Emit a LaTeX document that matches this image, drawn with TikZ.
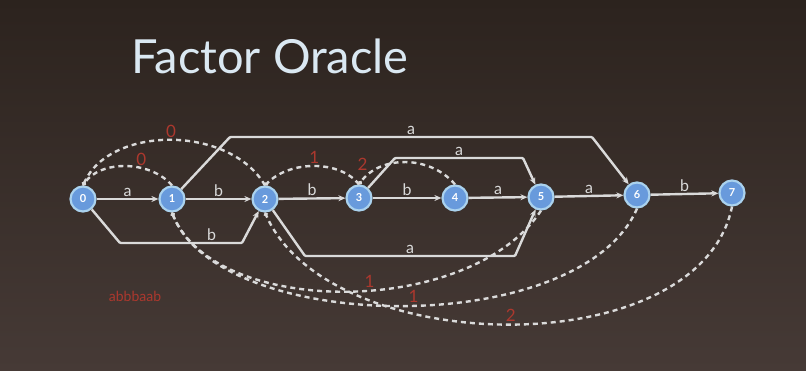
\documentclass[tikz,border=0pt]{standalone}
\usepackage{fontspec}
\setmainfont{Lato}
\usetikzlibrary{arrows.meta}
\definecolor{slidetop}{RGB}{44,35,30}
\definecolor{slidebot}{RGB}{70,58,54}
\definecolor{wire}{RGB}{218,218,218}
\definecolor{statefill}{RGB}{104,154,220}
\definecolor{ring}{RGB}{170,210,238}
\definecolor{lrsred}{RGB}{172,56,46}
\definecolor{titlecol}{RGB}{218,232,242}
\begin{document}
\begin{tikzpicture}[x=1pt, y=-1pt,
   every node/.style={font=\fontsize{16}{16}\selectfont},
   state/.style={circle, draw=ring, line width=2.2pt, fill=statefill, inner sep=0pt,
                 minimum size=25pt, text=white, font=\fontsize{11}{11}\selectfont\bfseries},
   trans/.style={draw=wire, line width=2.4pt, rounded corners=1pt, -{Stealth[length=7pt,width=6pt]}},
   sfx/.style={draw=wire, line width=2.4pt, dash pattern=on 5pt off 4pt, -{Circle[length=4pt]}},
   lbl/.style={text=wire, inner sep=1.5pt},
   lrs/.style={text=lrsred, inner sep=1.5pt, font=\fontsize{17}{17}\selectfont}]

\shade[top color=slidetop, bottom color=slidebot] (0,0) rectangle (806,371);
\useasboundingbox (0,0) rectangle (806,371);

\node[text=titlecol, font=\fontsize{47}{47}\selectfont] (title) at (270,56) {Factor Oracle};

% states
\node[state] (q0) at (83,199) {0};
\node[state] (q1) at (172,199) {1};
\node[state] (q2) at (265,199) {2};
\node[state] (q3) at (359,198) {3};
\node[state] (q4) at (455,198) {4};
\node[state] (q5) at (541,197) {5};
\node[state] (q6) at (637,195) {6};
\node[state] (q7) at (732,193) {7};

% transitions
\draw[trans] (q0) -- node[lbl, above] {a} (q1);
\draw[trans] (q1) -- node[lbl, above] {b} (q2);
\draw[trans] (q2) -- node[lbl, above] {b} (q3);
\draw[trans] (q3) -- node[lbl, above] {b} (q4);
\draw[trans] (q4) -- node[lbl, above] {a} (q5);
\draw[trans] (q5) -- node[lbl, above] {a} (q6);
\draw[trans] (q6) -- node[lbl, above] {b} (q7);

\draw[trans] (q0) -- (120,243) -- node[lbl, above, pos=0.75] {b} (242,243) -- (q2);
\draw[trans] (q1) -- (230,137) -- node[lbl, above] {a} (592,137) -- (q6);
\draw[trans] (q2) -- (305,256) -- node[lbl, above] {a} (515,256) -- (q5);
\draw[trans] (q3) -- (395,158) -- node[lbl, above] {a} (523,158) -- (q5);

% suffix links
\draw[sfx] (q1.north) .. controls (150,160) and (100,160) .. node[lrs, above, pos=0.35] {0} (q0.north);
\draw[sfx] (q2.north) .. controls (230,125) and (110,125) .. node[lrs, above] {0} (q0.north);
\draw[sfx] (q3.north) .. controls (340,160) and (290,160) .. node[lrs, above] {1} (q2.north);
\draw[sfx] (q4.north) .. controls (430,155) and (380,155) .. node[lrs, above left, pos=0.85] {2} (q3.north);
\draw[sfx] (q5.south) .. controls (470,318) and (215,318) .. node[lrs, above, pos=0.45] {1} (q1.south);
\draw[sfx] (q6.south) .. controls (580,340) and (220,335) .. node[lrs, above, pos=0.48] {1} (q1.south);
\draw[sfx] (q7.south) .. controls (700,365) and (330,360) .. node[lrs, above] {2} (q2.south);

\node[text=lrsred, font=\fontsize{14}{14}\selectfont] (word) at (135,296) {abbbaab};

\end{tikzpicture}
\end{document}
